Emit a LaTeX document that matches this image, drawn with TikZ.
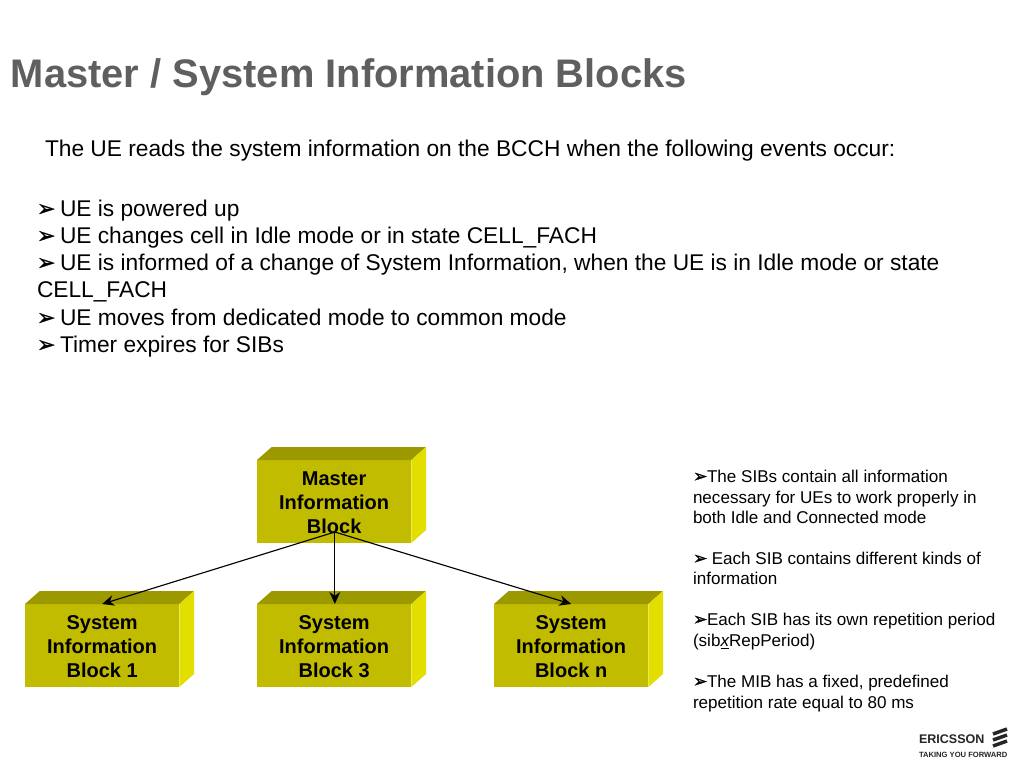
\documentclass[tikz,border=0pt]{standalone}
\usepackage{fontspec}
\setmainfont{Liberation Sans}
\newfontfamily\dejavu[RawFeature={embolden=1.2}]{DejaVu Sans}
\usetikzlibrary{arrows.meta}
\definecolor{frontc}{HTML}{C2BC00}
\definecolor{topc}{HTML}{9C9800}
\definecolor{sidec}{HTML}{E2DE00}
\definecolor{titlec}{HTML}{5F5F5F}
\newcommand{\bigbul}{\makebox[17.25pt][l]{\fontsize{16.6}{20}\dejavu\char"27A2}}
\newcommand{\smallbul}{\makebox[10.5pt][l]{\fontsize{13}{15}\dejavu\char"27A2}}
\tikzset{
  txt/.style={anchor=base west,inner sep=0pt,outer sep=0pt,text=black},
  titletxt/.style={txt,font=\fontsize{29.9}{34}\bfseries,text=titlec},
  bodytxt/.style={txt,font=\fontsize{17.05}{20}\selectfont},
  smalltxt/.style={txt,font=\fontsize{12.8}{15}\selectfont},
  front/.style={minimum width=115.75pt,minimum height=62.25pt,inner sep=0pt,outer sep=0pt,fill=frontc,align=center,anchor=north west,font=\fontsize{15}{18}\bfseries,text=black,text depth=0pt},
  conn/.style={draw=black,line width=0.85pt,-{Stealth[length=9pt,width=8pt]}},
}
\newcommand{\solidbox}[1]{%
  \fill[topc] (#1.north west) -- ++(11pt,9.75pt) -- ++(115.75pt,0pt) -- (#1.north east) -- cycle;
  \fill[sidec] (#1.north east) -- ++(11pt,9.75pt) -- ++(0pt,-62.25pt) -- (#1.south east) -- cycle;
}
\begin{document}
\begin{tikzpicture}[x=0.75pt,y=-0.75pt]
\useasboundingbox (0,0) rectangle (1024,768);
\fill[white] (0,0) rectangle (1024,768);
\node[titletxt] (title) at (11,87) {Master / System Information Blocks};
\node[bodytxt] (intro) at (45,156) {The UE reads the system information on the BCCH when the following events occur:};
\node[bodytxt] (b1) at (37,216) {\bigbul UE is powered up};
\node[bodytxt] (b2) at (37,243) {\bigbul UE changes cell in Idle mode or in state CELL\_FACH};
\node[bodytxt] (b3) at (37,270) {\bigbul UE is informed of a change of System Information, when the UE is in Idle mode or state};
\node[bodytxt] (b3b) at (37,297) {CELL\_FACH};
\node[bodytxt] (b4) at (37,325) {\bigbul UE moves from dedicated mode to common mode};
\node[bodytxt] (b5) at (37,352) {\bigbul Timer expires for SIBs};

\node[front] (mib) at (257,460) {\rule{0pt}{12.2pt}Master\\Information\\Block};
\solidbox{mib}
\node[front] (s1) at (25,604) {\rule{0pt}{12.2pt}System\\Information\\Block 1};
\solidbox{s1}
\node[front] (s3) at (257,604) {\rule{0pt}{12.2pt}System\\Information\\Block 3};
\solidbox{s3}
\node[front] (sn) at (494,604) {\rule{0pt}{12.2pt}System\\Information\\Block n};
\solidbox{sn}

\coordinate (hub) at ([yshift=8.25pt,xshift=0.5pt]mib.south);
\draw[conn] (hub) -- (s1.north);
\draw[conn] (hub) -- ([xshift=0.5pt]s3.north);
\draw[conn] (hub) -- (sn.north);

\node[smalltxt] (r1) at (693,482) {\smallbul The SIBs contain all information};
\node[smalltxt] (r2) at (693,503) {necessary for UEs to work properly in};
\node[smalltxt] (r3) at (693,523) {both Idle and Connected mode};
\node[smalltxt] (r4) at (693,564) {\smallbul\ Each SIB contains different kinds of};
\node[smalltxt] (r5) at (693,584) {information};
\node[smalltxt] (r6) at (693,625) {\smallbul Each SIB has its own repetition period};
\node[smalltxt] (r7) at (693,646) {(sib\underline{\smash{\itshape x}}RepPeriod)};
\node[smalltxt] (r8) at (693,687) {\smallbul The MIB has a fixed, predefined};
\node[smalltxt] (r9) at (693,708) {repetition rate equal to 80 ms};

\node[txt,font=\fontsize{9.4}{10}\bfseries,text=black!85] (logo) at (919,743) {ERICSSON};
\node[txt,font=\fontsize{5.7}{6}\bfseries,text=black!85] (tag) at (919,757) {TAKING YOU FORWARD};
\foreach \yy in {0,6,12}{
  \draw[line width=2.6pt,black!85] (993,734+\yy) -- (1007,729+\yy);
}
\end{tikzpicture}
\end{document}
